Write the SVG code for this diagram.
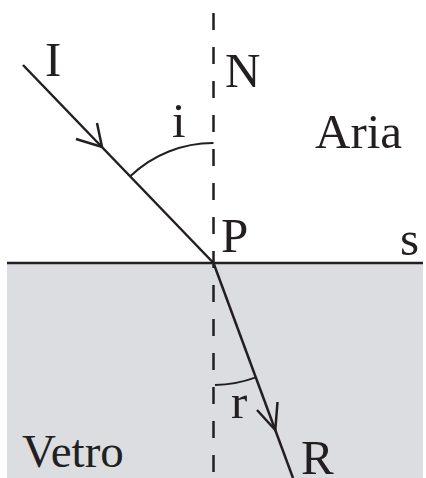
<svg xmlns="http://www.w3.org/2000/svg" width="426" height="478" viewBox="0 0 426 478">
<style>
.t{fill:#231f20;font-family:"Liberation Serif","Nimbus Roman","Nimbus Roman No9 L","Tinos","Times New Roman","Times","DejaVu Serif","Noto Serif",serif;font-size:49px}
.ln{stroke:#231f20;stroke-width:2.5;fill:none}
.arc{stroke:#231f20;stroke-width:2;fill:none}
</style>
<rect width="426" height="478" fill="#ffffff"/>
<g id="vetro">
<rect x="7" y="263" width="416" height="215" fill="#dcdde0"/>
<text class="t" x="22" y="467" style="font-size:47px">Vetro</text>
</g>
<g id="aria"><text class="t" x="315" y="148">Aria</text></g>
<g id="surface">
<line class="ln" x1="7" y1="263" x2="423" y2="263"/>
<text class="t" x="400" y="255">s</text>
</g>
<g id="normal">
<line x1="213.5" y1="13" x2="213.5" y2="478" stroke="#231f20" stroke-width="2.5" stroke-dasharray="17 17"/>
<text class="t" x="225" y="87">N</text>
</g>
<g id="point-P"><text class="t" x="221" y="252">P</text></g>
<g id="ray-I"><text class="t" x="45" y="76">I</text></g>
<g id="ray-R"><text class="t" x="301" y="474">R</text></g>
<g id="angle-i">
<path class="arc" d="M213.5,143 A120,120 0 0 0 130.5,176"/>
<text class="t" x="172" y="137">i</text>
</g>
<g id="angle-r">
<path class="arc" d="M215,385 A122,122 0 0 0 255.8,377.4"/>
<text class="t" x="231" y="418">r</text>
</g>
<g id="connectors">
<line class="ln" x1="23" y1="65" x2="213.5" y2="263"/>
<polyline class="ln" points="76,139 102,147 97,123"/>
<line class="ln" x1="213.5" y1="263" x2="293" y2="478"/>
<polyline class="ln" points="257,410 275.3,430 277.5,402"/>
</g>
</svg>
